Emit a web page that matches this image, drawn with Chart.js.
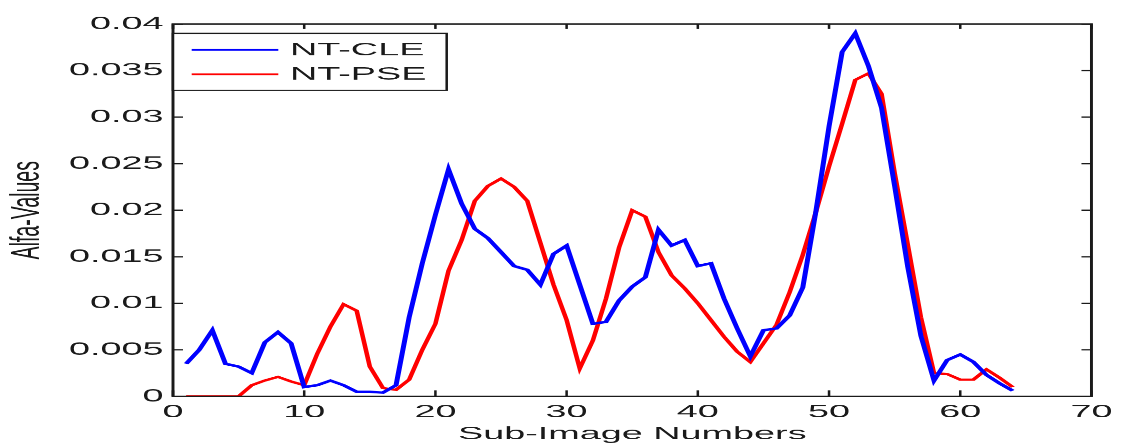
<!DOCTYPE html>
<html>
<head>
<meta charset="utf-8">
<script src="https://cdn.jsdelivr.net/npm/chart.js@4"></script>
<style>
  html, body { margin: 0; padding: 0; background: #fff; overflow: hidden; }
  /* the original figure is stretched sideways, so the canvas is too */
  #alfaChart { display: block; transform: scaleX(2.099); transform-origin: 0 0; }
</style>
</head>
<body>
<canvas id="alfaChart" width="535" height="443"></canvas>
<script>
const STRETCH = 2.099;

const subImages = [1, 2, 3, 4, 5, 6, 7, 8, 9, 10, 11, 12, 13, 14, 15, 16,
  17, 18, 19, 20, 21, 22, 23, 24, 25, 26, 27, 28, 29, 30, 31, 32,
  33, 34, 35, 36, 37, 38, 39, 40, 41, 42, 43, 44, 45, 46, 47, 48,
  49, 50, 51, 52, 53, 54, 55, 56, 57, 58, 59, 60, 61, 62, 63, 64];

const ntCle = [0.0035, 0.005, 0.0071, 0.0035, 0.0032, 0.0025, 0.0058, 0.0069,
  0.0057, 0.001, 0.0012, 0.0017, 0.0012, 0.0005, 0.0005, 0.0004,
  0.0012, 0.0085, 0.0143, 0.0195, 0.0244, 0.0207, 0.018, 0.017,
  0.0155, 0.014, 0.0136, 0.012, 0.0153, 0.0162, 0.012, 0.0078,
  0.008, 0.0103, 0.0118, 0.0128, 0.0179, 0.0162, 0.0168, 0.014,
  0.0143, 0.0105, 0.0073, 0.0043, 0.0071, 0.0073, 0.0087, 0.0117,
  0.0199, 0.029, 0.037, 0.039, 0.0355, 0.031, 0.0226, 0.0139,
  0.0065, 0.0017, 0.0039, 0.0045, 0.0037, 0.0023, 0.0014, 0.0006];

const ntPse = [0, 0, 0, 0, 0, 0.0012, 0.0017, 0.0021,
  0.0016, 0.0012, 0.0046, 0.0075, 0.0099, 0.0092, 0.0032, 0.0009,
  0.0007, 0.0018, 0.005, 0.0078, 0.0135, 0.0168, 0.021, 0.0226,
  0.0234, 0.0225, 0.021, 0.0165, 0.012, 0.0082, 0.003, 0.006,
  0.0105, 0.016, 0.02, 0.0193, 0.0155, 0.013, 0.0116, 0.01,
  0.0082, 0.0064, 0.0048, 0.0037, 0.0057, 0.0077, 0.0112, 0.0152,
  0.0198, 0.0247, 0.0293, 0.034, 0.0347, 0.0325, 0.024, 0.0163,
  0.0085, 0.0025, 0.0024, 0.0018, 0.0018, 0.0029, 0.002, 0.001];

const xTickLabels = ['0', '10', '20', '30', '40', '50', '60', '70'];
const yTickLabels = ['0', '0.005', '0.01', '0.015', '0.02', '0.025', '0.03', '0.035', '0.04'];

const FONT = '"Liberation Sans", Arial, Helvetica, sans-serif';
const INK = '#1a1a1a';

// MATLAB-like box, inward ticks on all four sides and the boxed legend
const matlabFrame = {
  id: 'matlabFrame',
  afterDatasetsDraw(chart) {
    const { ctx, chartArea: a, scales: { x, y } } = chart;
    ctx.save();
    ctx.strokeStyle = INK;
    ctx.lineWidth = 1.4;
    ctx.strokeRect(a.left, a.top, a.right - a.left, a.bottom - a.top);

    ctx.beginPath();
    ctx.lineWidth = 1.2;
    x.ticks.forEach(t => {
      const px = x.getPixelForValue(t.value);
      ctx.moveTo(px, a.bottom); ctx.lineTo(px, a.bottom - 6);
      ctx.moveTo(px, a.top); ctx.lineTo(px, a.top + 5);
    });
    const hLen = 10 / STRETCH;
    y.ticks.forEach(t => {
      const py = y.getPixelForValue(t.value);
      ctx.moveTo(a.left, py); ctx.lineTo(a.left + hLen, py);
      ctx.moveTo(a.right, py); ctx.lineTo(a.right - hLen, py);
    });
    ctx.stroke();

    // legend
    const lx = a.left, ly = a.top + 9.3;
    const lw = 446.7 / STRETCH - lx, lh = 57;
    ctx.fillStyle = '#fff';
    ctx.fillRect(lx, ly, lw, lh);
    ctx.lineWidth = 1.2;
    ctx.strokeRect(lx, ly, lw, lh);
    ctx.font = '18px ' + FONT;
    ctx.textBaseline = 'middle';
    chart.data.datasets.forEach((ds, i) => {
      const cy = ly + 16.5 + i * 24.5;
      ctx.beginPath();
      ctx.strokeStyle = ds.borderColor;
      ctx.lineWidth = 1.8;
      ctx.moveTo(191.7 / STRETCH, cy);
      ctx.lineTo(278.3 / STRETCH, cy);
      ctx.stroke();
      ctx.fillStyle = INK;
      ctx.fillText(ds.label, 290 / STRETCH, cy + 0.5);
    });
    ctx.restore();
  }
};

new Chart(document.getElementById('alfaChart'), {
  type: 'line',
  data: {
    datasets: [
      {
        label: 'NT-CLE',
        data: subImages.map((s, i) => ({ x: s, y: ntCle[i] })),
        borderColor: 'rgb(0, 0, 255)',
        borderWidth: 2.4,
        pointRadius: 0,
        tension: 0
      },
      {
        label: 'NT-PSE',
        data: subImages.map((s, i) => ({ x: s, y: ntPse[i] })),
        borderColor: 'rgb(255, 0, 0)',
        borderWidth: 2.2,
        pointRadius: 0,
        tension: 0
      }
    ]
  },
  options: {
    responsive: false,
    devicePixelRatio: STRETCH,
    animation: false,
    layout: { padding: { left: 0, right: 9.5, top: 24, bottom: 0 } },
    plugins: {
      legend: { display: false },
      tooltip: { enabled: false }
    },
    scales: {
      x: {
        type: 'linear',
        min: 0,
        max: 70,
        grid: { display: false, drawTicks: false },
        border: { display: false },
        ticks: {
          stepSize: 10,
          autoSkip: false,
          maxRotation: 0,
          padding: 5,
          color: INK,
          font: { family: FONT, size: 18 },
          callback: (v, i) => xTickLabels[i]
        },
        title: {
          display: true,
          text: 'Sub-Image Numbers',
          color: INK,
          font: { family: FONT, size: 18, lineHeight: 1 },
          padding: { top: 0, bottom: 0 }
        },
        afterFit: scale => { scale.height = 47; }
      },
      y: {
        min: 0,
        max: 0.04,
        grid: { display: false, drawTicks: false },
        border: { display: false },
        ticks: {
          stepSize: 0.005,
          autoSkip: false,
          padding: 4.5,
          color: INK,
          font: { family: FONT, size: 18 },
          callback: (v, i) => yTickLabels[i]
        },
        title: {
          display: true,
          text: 'Alfa-Values',
          color: INK,
          font: { family: FONT, size: 19.5 },
          padding: { top: 1.5, bottom: 0 }
        },
        afterFit: scale => { scale.width = 173 / STRETCH; }
      }
    }
  },
  plugins: [matlabFrame]
});
</script>
</body>
</html>
